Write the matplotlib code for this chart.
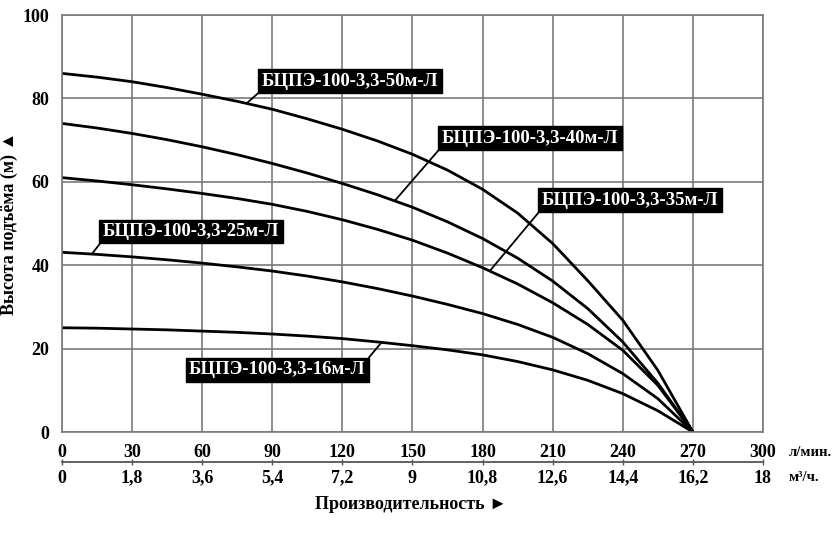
import matplotlib
matplotlib.use("Agg")
import matplotlib.pyplot as plt

# расход, л/мин
podacha = [0, 15, 30, 45, 60, 75, 90, 105, 120, 135, 150, 165, 180, 195, 210, 225, 240, 255, 270]

# напор, м
h_50 = [86, 85.1, 84, 82.6, 81, 79.3, 77.4, 75.1, 72.6, 69.8, 66.6, 62.8, 58.2, 52.5, 45.2,
        36.3, 26.8, 14.8, 0]
h_40 = [74, 72.9, 71.6, 70.1, 68.4, 66.5, 64.4, 62.1, 59.6, 56.9, 53.9, 50.4, 46.4, 41.7, 36.2,
        29.6, 21.6, 11.7, 0]
h_35 = [61, 60.2, 59.3, 58.3, 57.2, 56, 54.6, 52.9, 50.9, 48.6, 46, 42.9, 39.4, 35.5, 31,
        25.8, 19.6, 11.2, 0]
h_25 = [43.1, 42.6, 42, 41.3, 40.5, 39.6, 38.6, 37.4, 36, 34.4, 32.6, 30.6, 28.4, 25.8, 22.7,
        18.8, 14, 8, 0]
h_16 = [25, 24.9, 24.7, 24.5, 24.2, 23.9, 23.5, 23, 22.4, 21.6, 20.7, 19.7, 18.5, 16.9, 14.9,
        12.4, 9.2, 5.1, 0]

nazvania = ["БЦПЭ-100-3,3-50м-Л", "БЦПЭ-100-3,3-40м-Л", "БЦПЭ-100-3,3-35м-Л",
            "БЦПЭ-100-3,3-25м-Л", "БЦПЭ-100-3,3-16м-Л"]

tiki_lmin = [0, 30, 60, 90, 120, 150, 180, 210, 240, 270, 300]
tiki_m3 = ["0", "1,8", "3,6", "5,4", "7,2", "9", "10,8", "12,6", "14,4", "16,2", "18"]
tiki_h = [0, 20, 40, 60, 80, 100]

serif = ["Liberation Serif", "DejaVu Serif"]
plt.rcParams["font.family"] = serif
plt.rcParams["font.weight"] = "bold"

fig = plt.figure(figsize=(8.39, 5.36), dpi=100)
ax = fig.add_axes([0.0739, 0.194, 0.8355, 0.778])

seria = [h_50, h_40, h_35, h_25, h_16]
for h in seria:
    ax.plot(podacha, h, color="black", lw=2.0, solid_joinstyle="round")

ax.set_xlim(0, 300)
ax.set_ylim(0, 100)
ax.set_xticks(tiki_lmin)
ax.set_yticks(tiki_h)
ax.set_xticklabels([])
ax.tick_params(axis="x", length=0)
ax.tick_params(axis="y", length=0, pad=9, labelsize=13)
ax.grid(True, color="#7a7a7a", lw=1.2)
for s in ax.spines.values():
    s.set_color("#7a7a7a")
    s.set_linewidth(1.2)

ax.set_ylabel("Высота подъёма (м) ▲", fontsize=13, fontweight="bold",
              family=serif + ["DejaVu Sans"])
ax.yaxis.set_label_coords(-0.063, 0.5)

# подписи кривых: (центр рамки, точка на кривой, угол рамки)
podpisi = [
    ((123.3, 84.1), (79.2, 78.9), (0, 0)),
    ((200.3, 70.5), (142.5, 55.5), (0, 0)),
    ((243.1, 55.6), (183.2, 38.7), (0, 0)),
    ((55.2, 48.1), (12.8, 42.7), (0, 0)),
    ((92.2, 14.9), (136.9, 21.6), (1, 1)),
]
for nazv, (tekst_xy, tochka, rel) in zip(nazvania, podpisi):
    ax.annotate(nazv, xy=tochka, xytext=tekst_xy, ha="center", va="center",
                color="white", fontsize=13.5, fontweight="bold",
                bbox=dict(boxstyle="square,pad=0.18", fc="black", ec="black"),
                arrowprops=dict(arrowstyle="-", color="black", lw=1.3,
                                relpos=rel, shrinkA=0, shrinkB=0))

# отдельная шкала производительности
ax2 = fig.add_axes([0.0739, 0.138, 0.8355, 0.0001])
ax2.set_xlim(0, 300)
ax2.set_yticks([])
for k in ["top", "left", "right"]:
    ax2.spines[k].set_visible(False)
ax2.spines["bottom"].set_color("#555555")
ax2.spines["bottom"].set_linewidth(1.3)
ax2.set_xticks(tiki_lmin)
ax2.set_xticklabels(tiki_m3)
ax2.tick_params(axis="x", direction="inout", length=5, width=1, color="#555555",
                pad=3, labelsize=13)
ax2.patch.set_visible(False)

ax3 = ax2.twiny()
ax3.set_xlim(0, 300)
ax3.set_xticks(tiki_lmin)
ax3.set_xticklabels([str(t) for t in tiki_lmin])
ax3.tick_params(axis="x", length=0, pad=0.5, labelsize=13)
for s in ax3.spines.values():
    s.set_visible(False)

fig.text(0.94, 0.156, "л/мин.", fontsize=10.5, fontweight="bold", va="center")
fig.text(0.94, 0.110, "м³/ч.", fontsize=10.5, fontweight="bold", va="center")

fig.text(0.49, 0.058, "Производительность ►", fontsize=13, fontweight="bold",
         ha="center", va="center", family=serif + ["DejaVu Sans"])

fig.savefig("out.png", dpi=100)
